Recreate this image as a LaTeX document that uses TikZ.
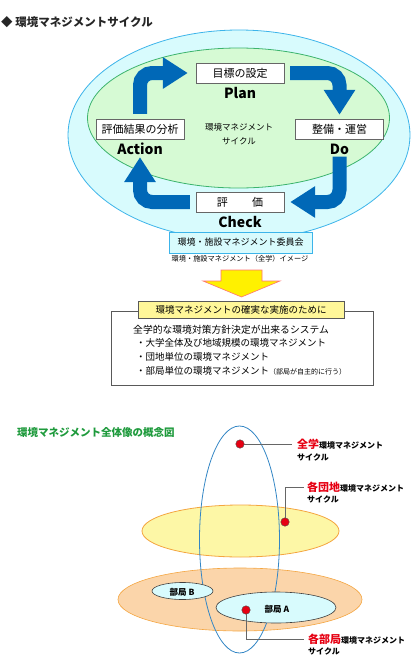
\documentclass[tikz,border=0pt]{standalone}
\usepackage{fontspec}
\setmainfont{Noto Sans CJK JP}
\usetikzlibrary{arrows.meta}
\definecolor{cycblue}{HTML}{0068B7}
\definecolor{outerfill}{HTML}{D8FBFD}
\definecolor{outerline}{HTML}{3CB4EA}
\definecolor{innerfill}{HTML}{D6FAD4}
\definecolor{innerline}{HTML}{3CB46E}
\definecolor{titlegreen}{HTML}{1E9A3C}
\definecolor{dotred}{HTML}{E60012}
\definecolor{bigyellow}{HTML}{FFF100}
\definecolor{labelyellow}{HTML}{FFF799}
\definecolor{paleyellow}{HTML}{FDF7A6}
\definecolor{peach}{HTML}{FBD5AA}
\definecolor{ringorange}{HTML}{F4A540}
\begin{document}
\begin{tikzpicture}[x=1pt,y=-1pt,
  stepbox/.style={draw=black!60, fill=white, minimum width=88pt, minimum height=20pt, inner sep=0pt, font=\fontsize{11}{11}\selectfont},
  phase/.style={font=\bfseries\fontsize{14}{14}\selectfont, inner sep=0pt},
  cyc/.style={line width=14pt, draw=cycblue, rounded corners=12pt, -{Triangle[length=25pt,width=30pt]}},
  smalltxt/.style={font=\fontsize{8.5}{14}\selectfont, align=center},
  listtxt/.style={anchor=west, inner sep=0pt, font=\fontsize{9.5}{9.5}\selectfont},
  reddot/.style={circle, fill=dotred, draw=black!70, minimum size=8.5pt, inner sep=0pt},
  lead/.style={draw=black!60, line width=0.8pt},
  tag/.style={anchor=west, inner sep=0pt, font=\bfseries\fontsize{8}{8}\selectfont},
  part/.style={draw=black!75, fill=outerfill, line width=0.6pt}]
\useasboundingbox (0,0) rectangle (411,656);
\node[anchor=west, inner sep=0pt, font=\bfseries\fontsize{11.5}{11.5}\selectfont, text=black!85] (ttl) at (1,22) {◆ 環境マネジメントサイクル};
\draw[fill=outerfill, draw=outerline, line width=0.8pt] (239,135) ellipse [x radius=171pt, y radius=105pt];
\draw[fill=innerfill, draw=innerline, line width=0.8pt] (238.5,118) ellipse [x radius=151pt, y radius=70pt];
\node[stepbox] (plan) at (240,73) {目標の設定};
\node[phase] (planTxt) at (240,93) {Plan};
\node[stepbox] (act) at (140,129) {評価結果の分析};
\node[phase] (actTxt) at (140,149) {Action};
\node[stepbox] (do) at (339.5,129) {整備・運営};
\node[phase] (doTxt) at (339.5,149) {Do};
\node[stepbox] (chk) at (240,202) {評\hspace{2.2em}価};
\node[phase] (chkTxt) at (240,222) {Check};
\node[smalltxt] (cyc) at (239,134) {環境マネジメント\\サイクル};
\draw[cyc, shorten <=5pt, shorten >=8pt] (act.north) |- (plan.west);
\draw[cyc, shorten <=6pt, shorten >=4pt] (plan.east) -| (do.north);
\draw[cyc, shorten <=2pt, shorten >=6pt] (doTxt.south) |- (chk.east);
\draw[cyc, shorten <=6pt, shorten >=2pt] (chk.west) -| (actTxt.south);
\node[draw=outerline, fill=outerfill, line width=0.8pt, minimum width=143pt, minimum height=21pt, inner sep=0pt, font=\fontsize{9}{9}\selectfont] (cmt) at (240.5,242.5) {環境・施設マネジメント委員会};
\node[inner sep=0pt, font=\fontsize{7.2}{7.2}\selectfont] (cap) at (240,259) {環境・施設マネジメント（全学）イメージ};
\draw[fill=bigyellow, draw=red!55, line width=0.6pt] (221,270) -- (262,270) -- (262,281) -- (280,281) -- (241.5,297) -- (203,281) -- (221,281) -- cycle;
\draw[draw=black!65, line width=0.8pt] (111,311) rectangle (373,385);
\node[draw=black!65, fill=labelyellow, line width=0.8pt, minimum width=206pt, minimum height=17pt, inner sep=0pt, font=\fontsize{9.5}{9.5}\selectfont] (goal) at (241,309.5) {環境マネジメントの確実な実施のために};
\node[listtxt, font=\fontsize{9.8}{9.8}\selectfont] (sys) at (133,330) {全学的な環境対策方針決定が出来るシステム};
\node[listtxt] (li1) at (136,343) {・大学全体及び地域規模の環境マネジメント};
\node[listtxt] (li2) at (136,357) {・団地単位の環境マネジメント};
\node[listtxt] (li3) at (136,371) {・部局単位の環境マネジメント{\fontsize{7}{7}\selectfont （部局が自主的に行う）}};
\node[anchor=west, inner sep=0pt, font=\bfseries\fontsize{10.5}{10.5}\selectfont, text=titlegreen] (ttl2) at (17,433) {環境マネジメント全体像の概念図};
\draw[fill=paleyellow, draw=ringorange, line width=0.8pt] (240.5,531) ellipse [x radius=98.5pt, y radius=26pt];
\draw[fill=peach, draw=ringorange, line width=0.6pt] (240,599.5) ellipse [x radius=122pt, y radius=31.5pt];
\draw[draw=cycblue!80, line width=0.8pt] (239.5,539.5) ellipse [x radius=40pt, y radius=113.5pt];
\draw[part] (182.5,591) ellipse [x radius=30.5pt, y radius=8.5pt];
\node[inner sep=0pt, font=\bfseries\fontsize{8.5}{8.5}\selectfont] (bkB) at (182,592) {部局 B};
\draw[part] (276,607.5) ellipse [x radius=60pt, y radius=15.5pt];
\node[inner sep=0pt, font=\bfseries\fontsize{8.5}{8.5}\selectfont] (bkA) at (277,609) {部局 A};
\node[tag] (l1) at (297,444) {\textcolor{dotred}{\fontsize{11}{11}\selectfont 全学}環境マネジメント};
\node[tag] (l1b) at (297,457) {サイクル};
\node[tag] (l2) at (307,487) {\textcolor{dotred}{\fontsize{11}{11}\selectfont 各団地}環境マネジメント};
\node[tag] (l2b) at (307,499) {サイクル};
\node[tag] (l3) at (308,639) {\textcolor{dotred}{\fontsize{11}{11}\selectfont 各部局}環境マネジメント};
\node[tag] (l3b) at (308,651) {サイクル};
\node[reddot] (d1) at (240,444) {};
\node[reddot] (d2) at (285,522) {};
\node[reddot] (d3) at (246,610) {};
\draw[lead] (d1) -- ([xshift=-5pt]l1.west);
\draw[lead] (d2) |- ([xshift=-3pt]l2.west);
\draw[lead] (d3) |- ([xshift=-4pt]l3.west);
\end{tikzpicture}
\end{document}
